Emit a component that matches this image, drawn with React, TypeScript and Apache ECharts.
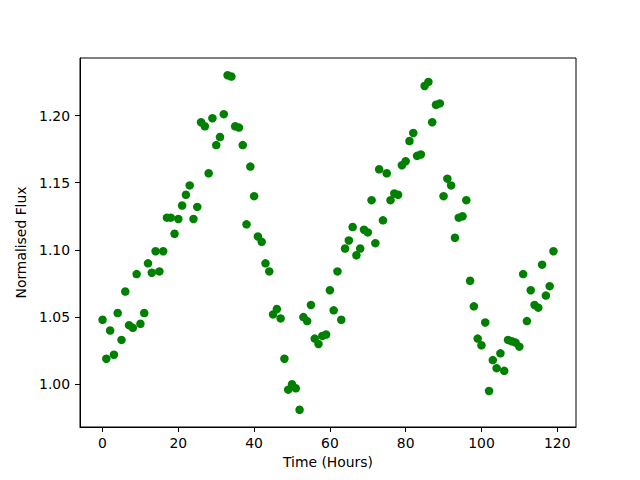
import React, { useEffect, useRef } from "react";
import * as echarts from "echarts";

const hours = [
  0, 1, 2, 3, 4, 5, 6, 7, 8, 9, 10, 11, 12, 13, 14, 15, 16, 17, 18, 19,
  20, 21, 22, 23, 24, 25, 26, 27, 28, 29, 30, 31, 32, 33, 34, 35, 36, 37, 38, 39,
  40, 41, 42, 43, 44, 45, 46, 47, 48, 49, 50, 51, 52, 53, 54, 55, 56, 57, 58, 59,
  60, 61, 62, 63, 64, 65, 66, 67, 68, 69, 70, 71, 72, 73, 74, 75, 76, 77, 78, 79,
  80, 81, 82, 83, 84, 85, 86, 87, 88, 89, 90, 91, 92, 93, 94, 95, 96, 97, 98, 99,
  100, 101, 102, 103, 104, 105, 106, 107, 108, 109, 110, 111, 112, 113, 114, 115, 116, 117, 118, 119,
];

const flux = [
  1.048, 1.019, 1.040, 1.022, 1.053, 1.033, 1.069, 1.044, 1.042, 1.082,
  1.045, 1.053, 1.090, 1.083, 1.099, 1.084, 1.099, 1.124, 1.124, 1.112,
  1.123, 1.133, 1.141, 1.148, 1.123, 1.132, 1.195, 1.192, 1.157, 1.198,
  1.178, 1.184, 1.201, 1.230, 1.229, 1.192, 1.191, 1.178, 1.119, 1.162,
  1.140, 1.110, 1.106, 1.090, 1.084, 1.052, 1.056, 1.049, 1.019, 0.996,
  1.000, 0.997, 0.981, 1.050, 1.047, 1.059, 1.034, 1.030, 1.036, 1.037,
  1.070, 1.055, 1.084, 1.048, 1.101, 1.107, 1.117, 1.096, 1.101, 1.115,
  1.113, 1.137, 1.105, 1.160, 1.122, 1.157, 1.137, 1.142, 1.141, 1.163,
  1.166, 1.181, 1.187, 1.170, 1.171, 1.222, 1.225, 1.195, 1.208, 1.209,
  1.140, 1.153, 1.148, 1.109, 1.124, 1.125, 1.137, 1.077, 1.058, 1.034,
  1.029, 1.046, 0.995, 1.018, 1.012, 1.023, 1.010, 1.033, 1.032, 1.031,
  1.028, 1.082, 1.047, 1.070, 1.059, 1.057, 1.089, 1.066, 1.073, 1.099,
];

const xTicks = [0, 20, 40, 60, 80, 100, 120];
const yTicks = [1.0, 1.05, 1.1, 1.15, 1.2];

const FONT = "DejaVu Sans";

export default function App() {
  const ref = useRef<HTMLDivElement>(null);
  useEffect(() => {
    if (!ref.current) return;
    const chart = echarts.init(ref.current, null, { renderer: "svg" });
    const data = hours.map((h, i) => [h, flux[i]]);
    chart.setOption({
      animation: false,
      backgroundColor: "#ffffff",
      grid: {
        left: 80,
        right: 64,
        top: 58,
        bottom: 53,
        show: true,
        borderColor: "#000000",
        borderWidth: 1,
        backgroundColor: "transparent",
      },
      xAxis: {
        type: "value",
        min: -5.95,
        max: 124.95,
        name: "Time (Hours)",
        nameLocation: "middle",
        nameGap: 28,
        nameTextStyle: { fontFamily: FONT, fontSize: 13.9, color: "#000" },
        axisLine: { show: true, onZero: false, lineStyle: { color: "#000", width: 1 } },
        axisTick: {
          show: true,
          inside: false,
          length: 5,
          lineStyle: { color: "#000", width: 1 },
          customValues: xTicks,
        },
        axisLabel: {
          show: true,
          margin: 9,
          fontFamily: FONT,
          fontSize: 13.9,
          color: "#000",
          customValues: xTicks,
          formatter: (v: number) => String(Math.round(v)),
        },
        splitLine: { show: false },
      },
      yAxis: {
        type: "value",
        min: 0.9682,
        max: 1.2428,
        name: "Normalised Flux",
        nameLocation: "middle",
        nameGap: 48,
        nameTextStyle: { fontFamily: FONT, fontSize: 13.9, color: "#000" },
        axisLine: { show: true, onZero: false, lineStyle: { color: "#000", width: 1 } },
        axisTick: {
          show: true,
          inside: false,
          length: 5,
          lineStyle: { color: "#000", width: 1 },
          customValues: yTicks,
        },
        axisLabel: {
          show: true,
          margin: 10,
          fontFamily: FONT,
          fontSize: 13.9,
          color: "#000",
          customValues: yTicks,
          formatter: (v: number) => v.toFixed(2),
        },
        splitLine: { show: false },
      },
      series: [
        {
          type: "scatter",
          data,
          symbol: "circle",
          symbolSize: 8.5,
          itemStyle: { color: "#008000", opacity: 1 },
        },
      ],
    });
    return () => chart.dispose();
  }, []);
  return (
    <div
      ref={ref}
      style={{ position: "fixed", left: 0, top: 0, width: 640, height: 480 }}
    />
  );
}
